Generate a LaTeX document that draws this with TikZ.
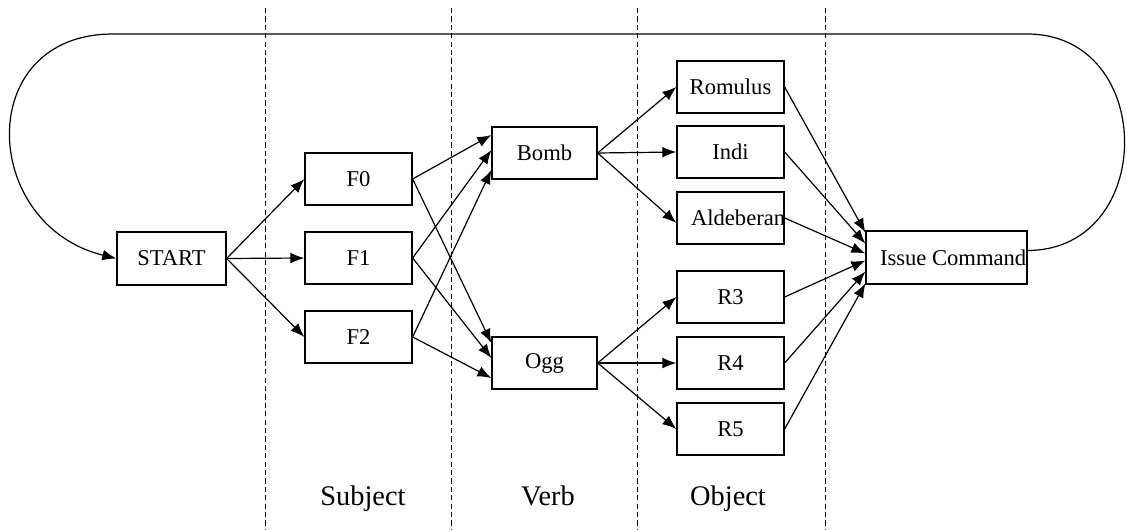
\documentclass[tikz,border=0pt]{standalone}
\usepackage{fontspec}
\setmainfont{Liberation Serif}
\usetikzlibrary{arrows.meta,calc}
\begin{document}
\begin{tikzpicture}[x=0.5pt,y=-0.5pt,
  box/.style={draw,line width=0.65pt,inner sep=0pt,minimum width=53.5pt,
    minimum height=26pt,font=\fontsize{11.3}{13}\selectfont},
  conn/.style={line width=0.6pt,-{Latex[length=7pt,width=5.4pt]}},
  sep/.style={line width=0.5pt,dash pattern=on 2.6pt off 1.6pt},
  lab/.style={font=\fontsize{14.2}{17}\selectfont,inner sep=0pt,anchor=base}]
\useasboundingbox (0,0) rectangle (1127,529);

% column separators
\foreach \x in {265,451,637,825}
  \draw[sep] (\x,8) -- (\x,529);

% column captions
\node[lab] (subj) at (363,505) {Subject};
\node[lab] (verb) at (548,505) {Verb};
\node[lab] (obj)  at (728,505) {Object};

% states
\node[box,minimum width=54.5pt,minimum height=26.5pt] (start) at (171.5,258.5) {START};
\node[box] (f0) at (358.5,179) {F0};
\node[box] (f1) at (358.5,258) {F1};
\node[box] (f2) at (358.5,337) {F2};
\node[box,minimum width=52.5pt] (bomb) at (544.5,153) {Bomb};
\node[box,minimum width=52.5pt] (ogg)  at (544.5,363) {Ogg};
\node[box] (rom) at (730.5,87)  {Romulus};
\node[box] (indi) at (730.5,152) {Indi};
\node[box] (ald) at (730.5,218) {\makebox[39.5pt][l]{Aldeberan}};
\node[box] (r3) at (730.5,297) {R3};
\node[box] (r4) at (730.5,363) {R4};
\node[box] (r5) at (730.5,429) {R5};
\node[box,minimum width=80.5pt,minimum height=26.5pt] (issue) at (946.5,257.5)
  {\makebox[66.5pt][l]{Issue Command}};

% start -> subject
\foreach \t in {f0,f1,f2}
  \draw[conn] (start.east) -- (\t.west);

% subject -> verb
\draw[conn] (f0.east) -- ($(bomb.west)+(0,-18)$);
\draw[conn] (f1.east) -- ($(bomb.west)+(0,-3)$);
\draw[conn] (f2.east) -- ($(bomb.west)+(0,17)$);
\draw[conn] (f0.east) -- ($(ogg.west)+(0,-20)$);
\draw[conn] (f1.east) -- ($(ogg.west)+(0,-5)$);
\draw[conn] (f2.east) -- ($(ogg.west)+(0,15)$);

% verb -> object
\draw[conn] (bomb.east) -- (rom.west);
\draw[conn] (bomb.east) -- (indi.west);
\draw[conn] (bomb.east) -- ($(ald.west)+(0,5)$);
\draw[conn] (ogg.east) -- (r3.west);
\draw[conn] (ogg.east) -- (r4.west);
\draw[conn] (ogg.east) -- (r5.west);

% object -> issue command
\draw[conn] (rom.east)  -- ($(issue.west)+(0,-25)$);
\draw[conn] (indi.east) -- ($(issue.west)+(0,-14)$);
\draw[conn] (ald.east)  -- ($(issue.west)+(0,-4)$);
\draw[conn] (r3.east)   -- ($(issue.west)+(0,3)$);
\draw[conn] (r4.east)   -- ($(issue.west)+(0,14)$);
\draw[conn] (r5.east)   -- ($(issue.west)+(0,26)$);

% loop back to start
\coordinate (tl) at (113,34);
\coordinate (tr) at (1027,34);
\draw[conn] ($(issue.east)+(0,-7)$) .. controls (1157,250) and (1157,34) .. (tr)
  -- (tl) .. controls (-27,34) and (-20,225) .. (start.west);
\end{tikzpicture}
\end{document}
